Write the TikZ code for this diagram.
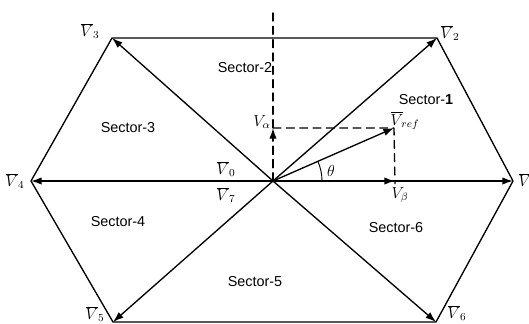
\documentclass[tikz,border=0pt]{standalone}
\usepackage{fontspec}
\setsansfont{Liberation Sans}
\usepackage{tikz}
\usetikzlibrary{arrows.meta}

\begin{document}
\begin{tikzpicture}[x=0.75pt,y=-0.75pt,line cap=round,line join=round,
  vec/.style={line width=1pt,-{Latex[length=8pt,width=5.5pt]}},
  side/.style={line width=1pt},
  guide/.style={line width=1pt,dash pattern=on 6pt off 4pt},
  vlab/.style={font=\fontsize{12}{14}\selectfont,inner sep=1pt},
  sector/.style={font=\sffamily\fontsize{10.8}{13}\selectfont,inner sep=0pt}]
\path[use as bounding box] (0,0) rectangle (529,324);
\coordinate (O) at (273,181);
\coordinate (v1) at (513,181);
\coordinate (v2) at (437,38);
\coordinate (v3) at (112,38);
\coordinate (v4) at (31,181);
\coordinate (v5) at (113,322);
\coordinate (v6) at (436,322);
\coordinate (vref) at (394,128);
\coordinate (va) at (273,128);
\coordinate (vb) at (395,181);
\coordinate (top) at (273,10);
\draw[side] (v1) -- (v2) -- (v3) -- (v4) -- (v5) -- (v6) -- cycle;
\draw[guide] (O) -- (top);
\draw[guide] (va) -- (vref) -- ([yshift=-2]vb);
\draw[vec] (O) -- (v1);
\draw[vec] (O) -- (v2);
\draw[vec] (O) -- (v3);
\draw[vec] (O) -- (v4);
\draw[vec] (O) -- (v5);
\draw[vec] (O) -- (v6);
\draw[vec] (O) -- (vref);
\draw[vec,dash pattern=on 6pt off 4pt] (O) -- (va);
\draw[vec] (O) -- (vb);
\draw[line width=0.7pt] (O) ++(49,0) arc[start angle=0,end angle=23.8,radius=36.75pt];
\node[vlab,anchor=west] (l1) at (517,181) {$\overline{V}_1$};
\node[vlab] (l2) at (450,33) {$\overline{V}_2$};
\node[vlab] (l3) at (90,31) {$\overline{V}_3$};
\node[vlab] (l4) at (15,181) {$\overline{V}_4$};
\node[vlab] (l5) at (95,314) {$\overline{V}_5$};
\node[vlab] (l6) at (457,313) {$\overline{V}_6$};
\node[vlab] (l0) at (226,169) {$\overline{V}_0$};
\node[vlab] (l7) at (226,195) {$\overline{V}_7$};
\node[vlab] (lref) at (405,121) {$\overline{V}_{\!ref}$};
\node[vlab] (la) at (262,122) {$V_\alpha$};
\node[vlab] (lb) at (400,195) {$V_\beta$};
\node[vlab] (lth) at (331,171) {$\theta$};
\node[sector] (s1) at (426,100) {Sector-\textbf{1}};
\node[sector] (s2) at (245,68) {Sector-2};
\node[sector] (s3) at (128,128) {Sector-3};
\node[sector] (s4) at (118,222) {Sector-4};
\node[sector] (s5) at (255,282) {Sector-5};
\node[sector] (s6) at (396,228) {Sector-6};
\end{tikzpicture}
\end{document}
